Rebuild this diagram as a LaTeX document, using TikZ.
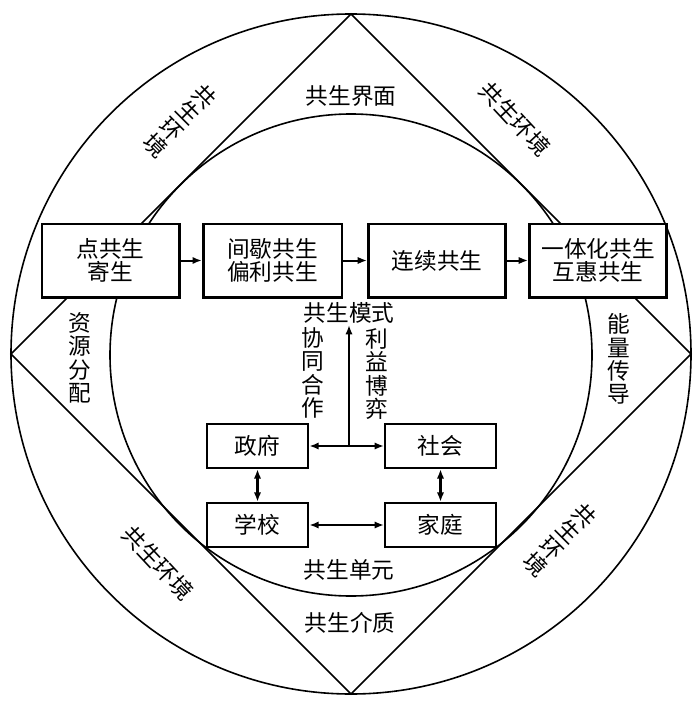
\documentclass[tikz,border=0pt]{standalone}
\usepackage{fontspec}
\newfontfamily\cjkfont{Noto Sans CJK SC}
\usetikzlibrary{arrows.meta}

\tikzset{
  ring/.style={line width=1.2pt},
  stagebox/.style={draw, line width=2pt, fill=white, minimum width=103pt, minimum height=55pt, inner sep=0pt, align=center, cjktext},
  unitbox/.style={draw, line width=1.8pt, fill=white, minimum width=76pt, minimum height=33pt, inner sep=0pt, cjktext},
  cjktext/.style={font=\cjkfont\fontsize{17}{17}\selectfont},
  vtext/.style={font=\cjkfont\fontsize{17}{17.5}\selectfont, align=center, inner sep=1pt},
  flow/.style={-{Latex[length=7pt,width=5.5pt]}, line width=1.5pt},
  twoway/.style={{Latex[length=7pt,width=5.5pt]}-{Latex[length=7pt,width=5.5pt]}, line width=1.5pt},
}

\begin{document}
\begin{tikzpicture}[x=0.75pt,y=0.75pt,yscale=-1,xscale=1]
	\useasboundingbox (0,0) rectangle (693,702);
	
	%Shape: Circle outer ring
	\draw [ring] (351,354) circle (340);
	%Shape: Diamond
	\draw [ring] (351,14) -- (691,354) -- (351,694) -- (11,354) -- cycle;
	%Shape: Circle inner ring
	\draw [ring] (351,355) circle (241);
	
	% Stage boxes
	\node [stagebox] (point) at (110.5,260.5) {点共生\\寄生};
	\node [stagebox, minimum width=104pt] (inter) at (272.5,260.5) {间歇共生\\偏利共生};
	\node [stagebox] (cont) at (437,260.5) {连续共生};
	\node [stagebox] (integ) at (598,260.5) {一体化共生\\互惠共生};
	\draw [flow] (point) -- (inter);
	\draw [flow] (inter) -- (cont);
	\draw [flow] (cont) -- (integ);
	
	% Unit boxes
	\node [unitbox] (gov) at (257.5,446) {政府};
	\node [unitbox, minimum width=83pt] (soc) at (440.5,446) {社会};
	\node [unitbox] (school) at (257.5,525) {学校};
	\node [unitbox, minimum width=83pt] (family) at (440.5,525) {家庭};
	
	% Text Node
	\node [cjktext, inner sep=1pt] (mode) at (349,313) {共生模式};
	\draw [twoway] (gov) -- (soc);
	\draw [flow] (gov.east -| mode) -- (mode.south);
	\draw [twoway, line width=2pt] (gov) -- (school);
	\draw [twoway, line width=2pt] (soc) -- (family);
	\draw [twoway, line width=2.2pt] (school) -- (family);
	
	% Text Node
	\node [vtext] (coop) at (313,373) {协\\同\\合\\作};
	% Text Node
	\node [vtext] (game) at (377,374) {利\\益\\博\\弈};
	% Text Node
	\node [vtext] (alloc) at (80,358) {资\\源\\分\\配};
	% Text Node
	\node [vtext] (energy) at (619,359) {能\\量\\传\\导};
	% Text Node
	\node [cjktext] (iface) at (351,96) {共生界面};
	% Text Node
	\node [cjktext] (unit) at (349,570) {共生单元};
	% Text Node
	\node [cjktext] (medium) at (350,623) {共生介质};
	% Text Node
	\node [vtext, rotate=-45] (envtl) at (180,121) {共\\生\\环\\境};
	% Text Node
	\node [cjktext, rotate=-47] (envtr) at (515,119) {共生环境};
	% Text Node
	\node [cjktext, rotate=-47] (envbl) at (158,563) {共生环境};
	% Text Node
	\node [vtext, rotate=-45] (envbr) at (560,540) {共\\生\\环\\境};
	
\end{tikzpicture}
\end{document}
